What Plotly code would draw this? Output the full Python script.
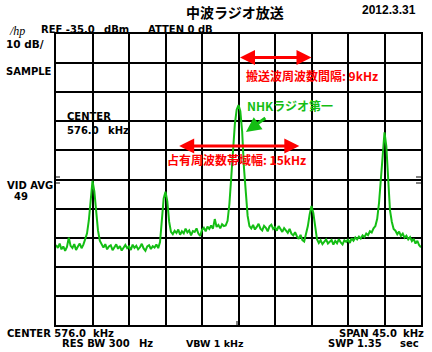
import plotly.graph_objects as go

# ---- analyzer settings ----
center_khz = 576.0
span_khz = 45.0
ref_dbm = -35.0
db_per_div = 10
n_div = 10
f_step_khz = 0.225
carrier_spacing_khz = 9.0
occupied_bw_khz = 15.0

# ---- trace values (dBm), one row per horizontal division ----
level_div0 = [-107.5, -108.5, -107.0, -109.0, -108.0, -109.5, -108.2, -105.0, -107.8, -108.5,
              -107.2, -109.2, -108.0, -107.0, -108.6, -107.4, -105.5, -103.5, -99.0, -92.0]
level_div1 = [-85.5, -89.0, -96.0, -102.5, -106.0, -107.5, -108.4, -107.2, -109.0, -108.0,
              -107.6, -109.3, -108.1, -107.3, -108.8, -107.9, -109.4, -108.2, -107.5, -108.6]
level_div2 = [-108.0, -109.2, -107.4, -108.5, -107.8, -109.0, -108.3, -107.1, -108.7, -109.5,
              -108.0, -107.6, -108.9, -107.9, -108.4, -107.3, -108.6, -106.5, -99.0, -91.5]
level_div3 = [-89.2, -92.5, -99.5, -103.0, -103.8, -102.6, -103.4, -102.2, -104.0, -102.8,
              -103.5, -101.9, -103.2, -102.5, -104.2, -102.7, -103.0, -101.8, -103.6, -104.4]
level_div4 = [-102.3, -101.6, -102.8, -101.2, -102.0, -100.8, -101.9, -98.6, -101.3, -100.6,
              -101.8, -100.4, -101.0, -100.8, -99.2, -93.5, -84.5, -74.0, -66.0, -61.0]
level_div5 = [-59.4, -61.5, -68.5, -81.0, -90.0, -97.5, -101.0, -101.8, -100.6, -102.2,
              -101.3, -100.2, -101.9, -102.5, -100.9, -101.6, -102.8, -101.1, -100.5, -102.0]
level_div6 = [-101.4, -102.6, -101.0, -102.1, -103.0, -101.7, -102.4, -103.3, -102.0, -103.6,
              -104.2, -103.1, -104.5, -105.4, -104.0, -105.8, -106.3, -103.5, -101.0, -97.0]
level_div7 = [-94.1, -96.5, -102.0, -105.5, -106.8, -105.9, -107.2, -106.3, -105.6, -107.0,
              -106.5, -105.8, -107.4, -106.1, -106.9, -105.5, -106.6, -107.3, -105.9, -106.4]
level_div8 = [-105.7, -106.8, -105.2, -106.0, -104.9, -105.6, -104.6, -105.3, -104.2, -104.8,
              -103.6, -104.1, -102.8, -103.2, -101.8, -101.0, -98.5, -93.0, -85.0, -75.0]
level_div9 = [-68.8, -73.5, -87.0, -95.5, -99.5, -102.0, -102.6, -103.8, -102.9, -104.4,
              -103.6, -105.0, -104.3, -105.6, -104.8, -106.2, -105.4, -107.0, -106.1, -107.6,
              -108.3]

level_dbm = (level_div0 + level_div1 + level_div2 + level_div3 + level_div4 +
             level_div5 + level_div6 + level_div7 + level_div8 + level_div9)

f_start = center_khz - span_khz / 2
freq_khz = [f_start + i * f_step_khz for i in range(len(level_dbm))]

GREEN = "#14BE14"
RED = "#FF0000"
SANS = "DejaVu Sans"
CJK = "Noto Sans CJK JP"

# plot area in pixels (for text placement)
PL, PR, PT, PB = 56, 423, 34, 325
W, H = 432, 352


def xp(px):
    return (px - PL) / (PR - PL)


def yp(py):
    return (PB - py) / (PB - PT)


fig = go.Figure()
fig.add_trace(go.Scatter(x=freq_khz, y=level_dbm, mode="lines",
                         line=dict(color=GREEN, width=2), hoverinfo="skip",
                         showlegend=False))

annotations = []


def txt(text, px, py, size=10, color="black", family=SANS, anchor="left", bold=True):
    annotations.append(dict(
        text=f"<b>{text}</b>" if bold else text, x=xp(px), y=yp(py),
        xref="paper", yref="paper", xanchor=anchor, yanchor="middle",
        showarrow=False, borderpad=0,
        font=dict(family=family, size=size, color=color)))


# header
txt("中波ラジオ放送", 236, 12, size=14, family=CJK, anchor="center")
txt("2012.3.31", 391, 10, size=12, family="Liberation Sans", anchor="center")
txt("<i>/hp</i>", 8, 31, size=12, family="Liberation Serif", bold=False)
txt("REF -35.0", 40, 29)
txt("dBm", 103, 29)
txt("ATTEN 0 dB", 147, 29)
txt("10 dB/", 5, 44, size=10.5)
txt("SAMPLE", 5, 71)
txt("CENTER", 66, 116.5)
txt("576.0", 66, 130.5)
txt("kHz", 107, 130.5)
txt("VID AVG", 6, 185.5)
txt("49", 13, 196)
# footer
txt("CENTER 576.0", 6, 333)
txt("kHz", 92, 333)
txt("RES BW 300", 61, 343.5)
txt("Hz", 138, 343.5)
txt("VBW 1 kHz", 186, 343.5, size=9.5)
txt("SPAN 45.0", 340, 333)
txt("kHz", 404, 333)
txt("SWP 1.35", 328, 343.5)
txt("sec", 401, 343.5)

# red / green annotations
txt("搬送波周波数間隔: 9kHz", 246, 75, size=12, family=CJK, color=RED)
txt("占有周波数帯域幅: 15kHz", 167, 159, size=12, family=CJK, color=RED)
txt("NHKラジオ第一", 247, 105, size=12, family=CJK, color=GREEN)


def dbm_at(py):
    return ref_dbm - (py - PT) / (PB - PT) * db_per_div * n_div


def khz_at(px):
    return f_start + (px - PL) / (PR - PL) * span_khz


# carrier spacing arrow (576 -> 585 kHz)
annotations.append(dict(
    x=center_khz + carrier_spacing_khz, y=dbm_at(57.5), ax=center_khz, ay=dbm_at(57.5),
    xref="x", yref="y", axref="x", ayref="y", text="", showarrow=True,
    arrowhead=2, arrowside="end+start", arrowsize=1, arrowwidth=3, arrowcolor=RED))
# occupied bandwidth arrow (576 +/- 7.5 kHz)
annotations.append(dict(
    x=center_khz + occupied_bw_khz / 2, y=dbm_at(146), ax=center_khz - occupied_bw_khz / 2,
    ay=dbm_at(146), xref="x", yref="y", axref="x", ayref="y", text="", showarrow=True,
    arrowhead=2, arrowside="end+start", arrowsize=1, arrowwidth=3, arrowcolor=RED))
# green pointer to NHK carrier
annotations.append(dict(
    x=khz_at(247), y=dbm_at(132), ax=khz_at(268), ay=dbm_at(117),
    xref="x", yref="y", axref="x", ayref="y", text="", showarrow=True,
    arrowhead=2, arrowsize=1, arrowwidth=3, arrowcolor=GREEN))

# small reference markers on edges
shapes = []
for yy in (177, 183):
    shapes.append(dict(type="line", xref="paper", yref="paper",
                       x0=xp(55), x1=xp(60), y0=yp(yy), y1=yp(yy),
                       line=dict(color="black", width=1)))
    shapes.append(dict(type="line", xref="paper", yref="paper",
                       x0=xp(418), x1=xp(424), y0=yp(yy), y1=yp(yy),
                       line=dict(color="black", width=1)))
shapes.append(dict(type="line", xref="paper", yref="paper",
                   x0=xp(238), x1=xp(238), y0=yp(325), y1=yp(321),
                   line=dict(color="black", width=1)))

axis_common = dict(showgrid=True, gridcolor="black", gridwidth=2, zeroline=False,
                   showline=True, linecolor="black", linewidth=2, mirror=True,
                   showticklabels=False, ticks="", fixedrange=True)

fig.update_layout(
    width=W, height=H,
    margin=dict(l=PL, r=W - PR, t=PT, b=H - PB, pad=0),
    paper_bgcolor="white", plot_bgcolor="white",
    xaxis=dict(range=[f_start, f_start + span_khz], dtick=span_khz / n_div, tick0=f_start,
               **axis_common),
    yaxis=dict(range=[ref_dbm - db_per_div * n_div, ref_dbm], dtick=db_per_div,
               tick0=ref_dbm, **axis_common),
    annotations=annotations, shapes=shapes, showlegend=False,
)

fig.write_html("out.html")
